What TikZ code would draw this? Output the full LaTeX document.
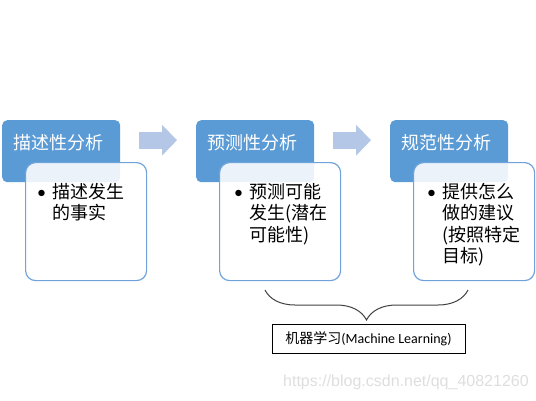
\documentclass[tikz,border=0pt]{standalone}
\usepackage{fontspec}
\setmainfont{Carlito}
\newfontfamily\cjk{Noto Sans CJK SC}
\newfontfamily\wmfont{Liberation Sans}
\usetikzlibrary{positioning, arrows.meta, decorations.pathreplacing}

\definecolor{hdrblue}{HTML}{5B9BD5}
\definecolor{boxline}{HTML}{6FA3DA}
\definecolor{arrowblue}{HTML}{B4C7E7}

% bullet list inside a white box
\newcommand{\bulletlines}[1]{%
  \begin{tabular}{@{}l@{\hspace{6pt}}l@{}}
    {\rmfamily\textbullet} & #1
  \end{tabular}}

\begin{document}
\begin{tikzpicture}[x=1pt, y=-1pt,
  hdr/.style={fill=hdrblue, rounded corners=5pt, anchor=north west,
    text=white, font=\cjk\fontsize{18}{21}\selectfont, align=left,
    text width=96pt, inner xsep=11pt, inner ysep=0pt,
    text height=29pt, text depth=33pt},
  body/.style={draw=boxline, line width=1.2pt, fill=white, fill opacity=0.88,
    rounded corners=10pt, anchor=north west,
    minimum width=121pt, minimum height=118pt, inner sep=0pt},
  bodytext/.style={anchor=north west, inner sep=0pt,
    font=\cjk\fontsize{18}{21}\selectfont},
  flow/.style={arrowblue, line width=17pt,
    -{Triangle[length=15pt, width=30pt]},
    shorten <=19pt, shorten >=19pt},
  mlbox/.style={draw, line width=0.9pt, minimum width=193pt,
    minimum height=29pt, inner sep=0pt}]
  \useasboundingbox (0,0) rectangle (536,400);

  % headers
  \node[hdr] (desc) at (2,120) {描述性分析};
  \node[hdr] (pred) at (196,120) {预测性分析};
  \node[hdr] (norm) at (390,120) {规范性分析};

  % white boxes
  \node[body] (desc-body) at (25,162) {};
  \node[body] (pred-body) at (219,162) {};
  \node[body] (norm-body) at (413,162) {};

  \node[bodytext] (desc-txt) at ([xshift=12pt, yshift=-21pt]desc-body.north west)
    {\bulletlines{描述发生\\ & 的事实}};
  \node[bodytext] (pred-txt) at ([xshift=15pt, yshift=-21pt]pred-body.north west)
    {\bulletlines{预测可能\\ & 发生(潜在\\ & 可能性)}};
  \node[bodytext] (norm-txt) at ([xshift=14pt, yshift=-21pt]norm-body.north west)
    {\bulletlines{提供怎么\\ & 做的建议\\ & (按照特定\\ & 目标)}};

  % block arrows
  \draw[flow] ([yshift=11pt]desc.east) -- ([yshift=11pt]pred.west);
  \draw[flow] ([yshift=11pt]pred.east) -- ([yshift=11pt]norm.west);

  % brace and label
  \draw[decorate, decoration={brace, mirror, amplitude=30pt},
    line width=1pt, black!75] (265,290) -- (468,290);
  \node[mlbox, font=\fontsize{14}{16}\selectfont] (ml) at (368.5,338.5)
    {{\cjk 机器学习}(Machine Learning)};

  \node[text=black!13, font=\wmfont\fontsize{16}{18}\selectfont,
    anchor=west, inner sep=0pt] (wm) at (283,382)
    {https://blog.csdn.net/qq\_40821260};
\end{tikzpicture}
\end{document}
